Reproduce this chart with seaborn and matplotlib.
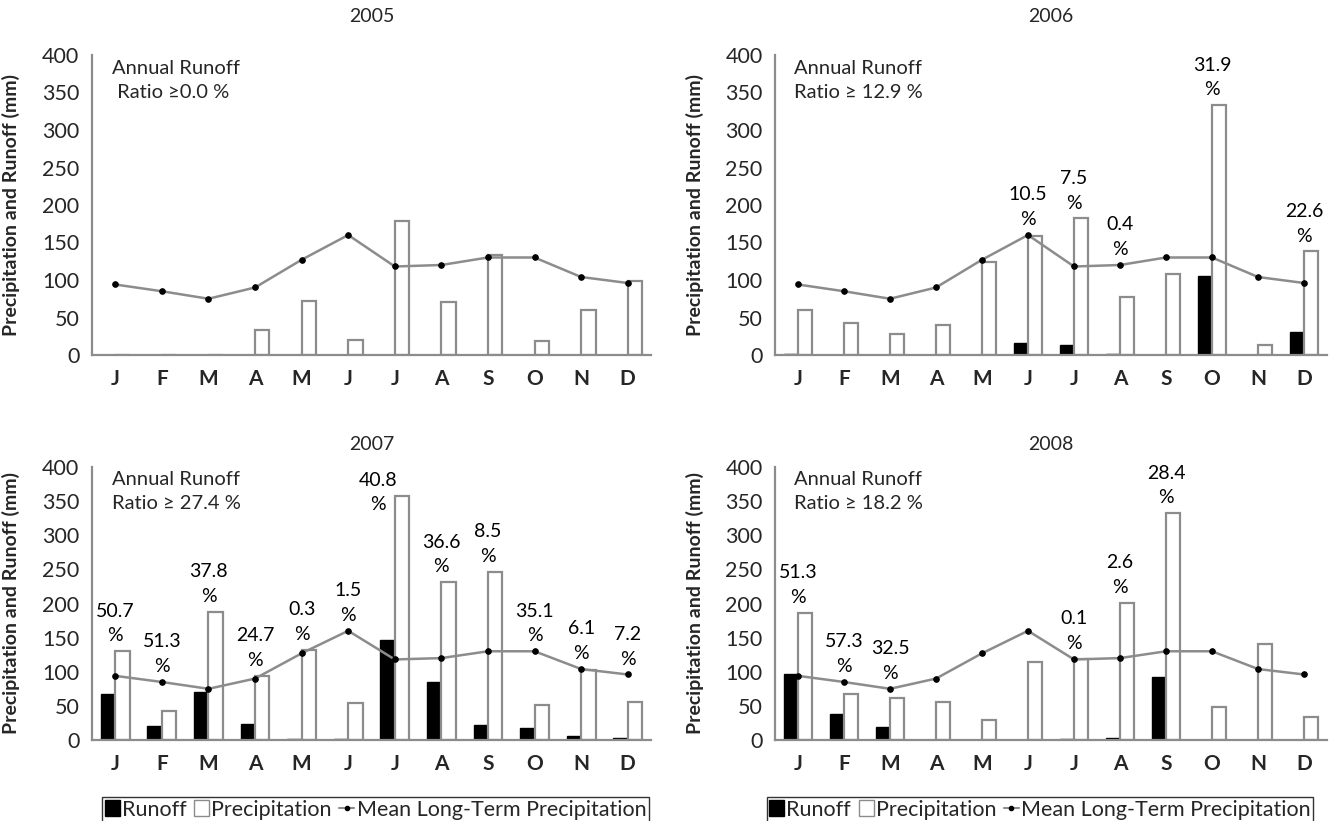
import matplotlib
matplotlib.use("Agg")
import matplotlib.pyplot as plt
import numpy as np
import pandas as pd
import seaborn as sns
from matplotlib.lines import Line2D
from matplotlib.patches import Patch


MONTHS = ["J", "F", "M", "A", "M", "J", "J", "A", "S", "O", "N", "D"]
YEARS = ["2005", "2006", "2007", "2008"]

MEAN_LT_PRECIP = [94, 85, 75, 90, 127, 160, 118, 120, 130, 130, 104, 96]

PRECIP_2005 = [0, 0, 0, 33, 72, 20, 178, 70, 133, 18, 60, 98]
RUNOFF_2005 = [0, 0, 0, 0, 0, 0, 0, 0, 0, 0, 0, 0]
PRECIP_2006 = [60, 42, 28, 40, 124, 158, 182, 77, 108, 333, 13, 138]
RUNOFF_2006 = [1, 0, 0, 0, 0, 16, 13, 1, 0, 105, 0, 31]
PRECIP_2007 = [130, 42, 188, 94, 132, 54, 357, 231, 246, 51, 103, 56]
RUNOFF_2007 = [67, 21, 70, 24, 1, 1, 146, 85, 22, 17, 6, 3]
PRECIP_2008 = [186, 67, 62, 55, 29, 114, 119, 201, 332, 49, 141, 33]
RUNOFF_2008 = [96, 38, 19, 0, 0, 0, 1, 3, 93, 0, 0, 0]

# monthly runoff ratio labels (None = no label)
RATIO_2005 = [None] * 12
RATIO_2006 = [None, None, None, None, None, "10.5", "7.5", "0.4", None, "31.9", None, "22.6"]
RATIO_2007 = ["50.7", "51.3", "37.8", "24.7", "0.3", "1.5", "40.8", "36.6", "8.5", "35.1", "6.1", "7.2"]
RATIO_2008 = ["51.3", "57.3", "32.5", None, None, None, "0.1", "2.6", "28.4", None, None, None]

ANNUAL_TEXT = ["Annual Runoff\n Ratio \u22650.0 %", "Annual Runoff\nRatio \u2265 12.9 %",
               "Annual Runoff\nRatio \u2265 27.4 %", "Annual Runoff\nRatio \u2265 18.2 %"]

PRECIPS = [PRECIP_2005, PRECIP_2006, PRECIP_2007, PRECIP_2008]
RUNOFFS = [RUNOFF_2005, RUNOFF_2006, RUNOFF_2007, RUNOFF_2008]
RATIOS = [RATIO_2005, RATIO_2006, RATIO_2007, RATIO_2008]

GRAY = "#8c8c8c"
FONT = ["Lato", "DejaVu Sans"]


def build_frame(precip, runoff):
    n = len(MONTHS)
    return pd.DataFrame({
        "month": list(range(n)) * 2,
        "kind": ["Runoff"] * n + ["Precipitation"] * n,
        "value": list(runoff) + list(precip),
    })


def draw_panel(ax, idx, title_pad):
    df = build_frame(PRECIPS[idx], RUNOFFS[idx])
    sns.barplot(
        data=df, x="month", y="value", hue="kind",
        hue_order=["Runoff", "Precipitation"],
        palette={"Runoff": "black", "Precipitation": "white"},
        width=0.62, gap=0, legend=False, ax=ax,
    )
    for bar in ax.containers[0]:
        bar.set_edgecolor("black")
        bar.set_linewidth(1.0)
    for bar in ax.containers[1]:
        bar.set_edgecolor(GRAY)
        bar.set_linewidth(1.6)

    sns.lineplot(
        x=np.arange(len(MONTHS)), y=MEAN_LT_PRECIP, color=GRAY, linewidth=1.8,
        marker="o", markersize=4, markerfacecolor="black", markeredgecolor="black",
        ax=ax,
    )

    # runoff ratio labels above each month
    for i, lab in enumerate(RATIOS[idx]):
        if lab is None:
            continue
        top = max(PRECIPS[idx][i], MEAN_LT_PRECIP[i])
        x = i
        if top > 345:
            top = 322
            x = i - 0.36
        ax.annotate(f"{lab}\n%", (x, top), xytext=(0, 5), textcoords="offset points",
                    ha="center", va="bottom", fontsize=14, linespacing=1.55,
                    family=FONT, color="black")

    ax.text(0.035, 0.985, ANNUAL_TEXT[idx], transform=ax.transAxes, ha="left", va="top",
            fontsize=14.5, linespacing=1.5, family=FONT)

    ax.set_xlim(-0.5, len(MONTHS) - 0.5)
    ax.set_ylim(0, 400)
    ax.set_yticks(np.arange(0, 401, 50))
    ax.set_xticks(range(len(MONTHS)), labels=MONTHS)
    ax.set_xticks(np.arange(-0.5, len(MONTHS), 1.0), minor=True)
    ax.tick_params(axis="x", which="major", length=0, pad=10, labelsize=15)
    ax.tick_params(axis="x", which="minor", length=6, direction="inout", color=GRAY, width=1.2)
    ax.tick_params(axis="y", length=5, color=GRAY, width=1.2, labelsize=15.5, pad=4)
    for lab in ax.get_xticklabels() + ax.get_yticklabels():
        lab.set_family(FONT)
    for lab in ax.get_xticklabels():
        lab.set_fontweight("bold")

    for side in ["top", "right"]:
        ax.spines[side].set_visible(False)
    for side in ["left", "bottom"]:
        ax.spines[side].set_color(GRAY)
        ax.spines[side].set_linewidth(1.6)

    ax.set_xlabel("")
    ax.set_ylabel("Precipitation and Runoff (mm)", fontsize=14, fontweight="bold", family=FONT)
    ax.yaxis.set_label_coords(-0.128, 0.5)
    ax.set_title(YEARS[idx], fontsize=14, family=FONT, pad=title_pad)


def add_legend(ax, x_center):
    handles = [
        Patch(facecolor="black", edgecolor="black"),
        Patch(facecolor="white", edgecolor=GRAY),
        Line2D([0], [0], color=GRAY, lw=1.5, marker="o", markersize=3,
               markerfacecolor="black", markeredgecolor="black"),
    ]
    labels = ["Runoff", "Precipitation", "Mean Long-Term Precipitation"]
    leg = ax.legend(
        handles, labels, loc="center", bbox_to_anchor=(x_center, -0.255), ncol=3,
        frameon=True, fancybox=False, handlelength=0.7, handleheight=0.8,
        handletextpad=0.1, columnspacing=0.35, borderpad=0.12,
        prop={"family": FONT, "size": 15.5},
    )
    leg.get_frame().set_edgecolor("black")
    leg.get_frame().set_linewidth(1.0)


def main():
    sns.set_style("white")
    plt.rcParams["font.family"] = FONT

    fig = plt.figure(figsize=(13.31, 8.21), dpi=100)
    W, H = 1331, 821
    boxes = [
        (92, 55, 651, 355),
        (775, 55, 1327, 355),
        (92, 467, 651, 740),
        (775, 467, 1327, 740),
    ]
    pads = [24, 24, 12, 12]
    legend_x = {2: 0.507, 3: 0.48}
    for idx, (x0, y0, x1, y1) in enumerate(boxes):
        ax = fig.add_axes([x0 / W, 1 - y1 / H, (x1 - x0) / W, (y1 - y0) / H])
        draw_panel(ax, idx, pads[idx])
        if idx in legend_x:
            add_legend(ax, legend_x[idx])

    fig.savefig("out.png", dpi=100)


if __name__ == "__main__":
    main()
